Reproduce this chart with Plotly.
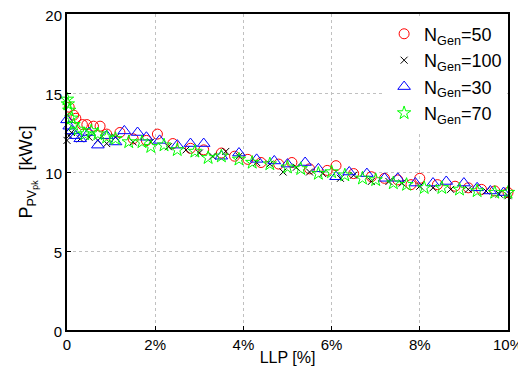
import plotly.graph_objects as go

# N_Gen = 50 (red circles)
x50 = [0.05,0.15,0.2,0.35,0.45,0.6,0.75,0.9,1.2,1.5,1.8,2.05,2.4,2.8,3.1,3.5,3.8,4.1,4.4,4.8,5.1,5.5,5.9,6.1,6.5,6.9,7.2,7.5,7.8,8.0,8.4,8.8,9.1,9.4,9.7,10.0]
y50 = [14.1,13.6,13.4,13.0,13.0,12.9,12.9,12.4,12.5,12.1,12.0,12.4,11.8,11.5,11.4,11.2,11.0,10.8,10.6,10.5,10.6,10.2,10.1,10.4,9.9,9.7,9.6,9.5,9.2,9.6,9.2,9.1,9.0,8.9,8.8,8.7]
# N_Gen = 100 (black x)
x100 = [0.0,0.05,0.1,0.3,0.5,0.7,0.9,1.1,1.5,1.9,2.3,2.7,3.0,3.3,3.6,3.9,4.3,4.6,4.9,5.2,5.5,5.8,6.2,6.5,6.9,7.3,7.6,8.0,8.3,8.7,9.1,9.5,9.8,10.0]
y100 = [12.0,12.3,12.5,12.1,12.2,12.0,11.8,12.2,11.9,11.9,11.6,11.4,11.2,11.0,11.3,11.0,10.6,10.5,10.0,10.3,10.0,9.9,9.6,9.8,9.4,9.4,9.3,9.1,9.0,8.9,8.9,8.8,8.6,8.5]
# N_Gen = 30 (blue triangles)
x30 = [0.0,0.05,0.1,0.2,0.3,0.5,0.7,0.9,1.1,1.3,1.6,1.8,2.1,2.5,2.8,3.1,3.5,3.9,4.3,4.7,5.0,5.4,5.7,6.1,6.4,6.8,7.2,7.5,7.9,8.3,8.6,9.0,9.3,9.6,9.9]
y30 = [13.3,12.9,12.6,12.3,12.1,12.5,11.7,12.3,11.9,12.6,12.5,12.2,12.0,11.7,11.8,11.8,11.0,11.2,10.8,10.7,10.5,10.6,10.2,9.7,10.0,9.9,9.6,9.6,9.3,9.3,9.4,9.3,9.0,8.8,8.7]
# N_Gen = 70 (green stars)
x70 = [0.0,0.02,0.05,0.1,0.15,0.25,0.4,0.55,0.7,0.9,1.1,1.4,1.7,1.9,2.2,2.5,2.9,3.2,3.5,3.9,4.2,4.6,5.0,5.3,5.7,6.0,6.3,6.7,7.0,7.4,7.7,8.1,8.5,8.9,9.3,9.7,10.0]
y70 = [14.6,14.3,13.9,13.4,13.0,12.7,12.4,12.6,12.4,12.2,12.1,11.9,11.9,11.6,11.7,11.4,11.3,10.9,11.0,10.8,10.6,10.5,10.3,10.2,9.9,10.0,9.8,9.6,9.5,9.3,9.2,9.0,9.0,8.9,8.8,8.7,8.7]

xticks = [0, 2, 4, 6, 8, 10]
xticklabels = ["0", "2%", "4%", "6%", "8%", "10%"]
yticks = [0, 5, 10, 15, 20]

FONT = "Liberation Sans, Arial, sans-serif"

series = [
    ("N<sub>Gen</sub>=50", x50, y50, "circle-open", "#ff0000", 10),
    ("N<sub>Gen</sub>=100", x100, y100, "x-thin-open", "#000000", 7),
    ("N<sub>Gen</sub>=30", x30, y30, "triangle-up-open", "#0000ff", 11),
    ("N<sub>Gen</sub>=70", x70, y70, "star-open", "#00ff00", 10),
]

fig = go.Figure()
for name, xs, ys, sym, col, sz in series:
    fig.add_trace(go.Scatter(
        x=xs, y=ys, mode="markers", name=name, cliponaxis=False,
        marker=dict(symbol=sym, color=col, size=sz, line=dict(color=col, width=1)),
    ))

axis_common = dict(
    showline=True, linecolor="black", linewidth=2, mirror=True,
    ticks="inside", ticklen=4, tickcolor="black",
    showgrid=True, gridcolor="#c0c0c0", griddash="dot", gridwidth=1,
    zeroline=False, automargin=False, ticklabeloverflow="allow",
    tickfont=dict(family=FONT, size=15, color="black"),
)

# page body has an 8px default margin, so the figure is shrunk and margins shifted
fig.update_layout(
    width=518, height=358,
    margin=dict(l=59, r=18, t=6, b=36, autoexpand=False),
    paper_bgcolor="white", plot_bgcolor="white",
    font=dict(family=FONT, size=16, color="black"),
    xaxis=dict(range=[0, 10], tickvals=xticks, ticktext=xticklabels,
               title=dict(text="LLP [%]", font=dict(size=16), standoff=0), **axis_common),
    yaxis=dict(range=[0, 20], tickvals=yticks, ticklabelshift=2,
               title=dict(text="P<sub>PV<sub>pk</sub></sub>  [kWc]", font=dict(size=18), standoff=8),
               **axis_common),
    legend=dict(x=0.998, y=0.995, xanchor="right", yanchor="top",
                bgcolor="white", borderwidth=0,
                font=dict(family=FONT, size=18), tracegroupgap=0,
                itemwidth=30),
    showlegend=True,
)

fig.write_html("out.html")
